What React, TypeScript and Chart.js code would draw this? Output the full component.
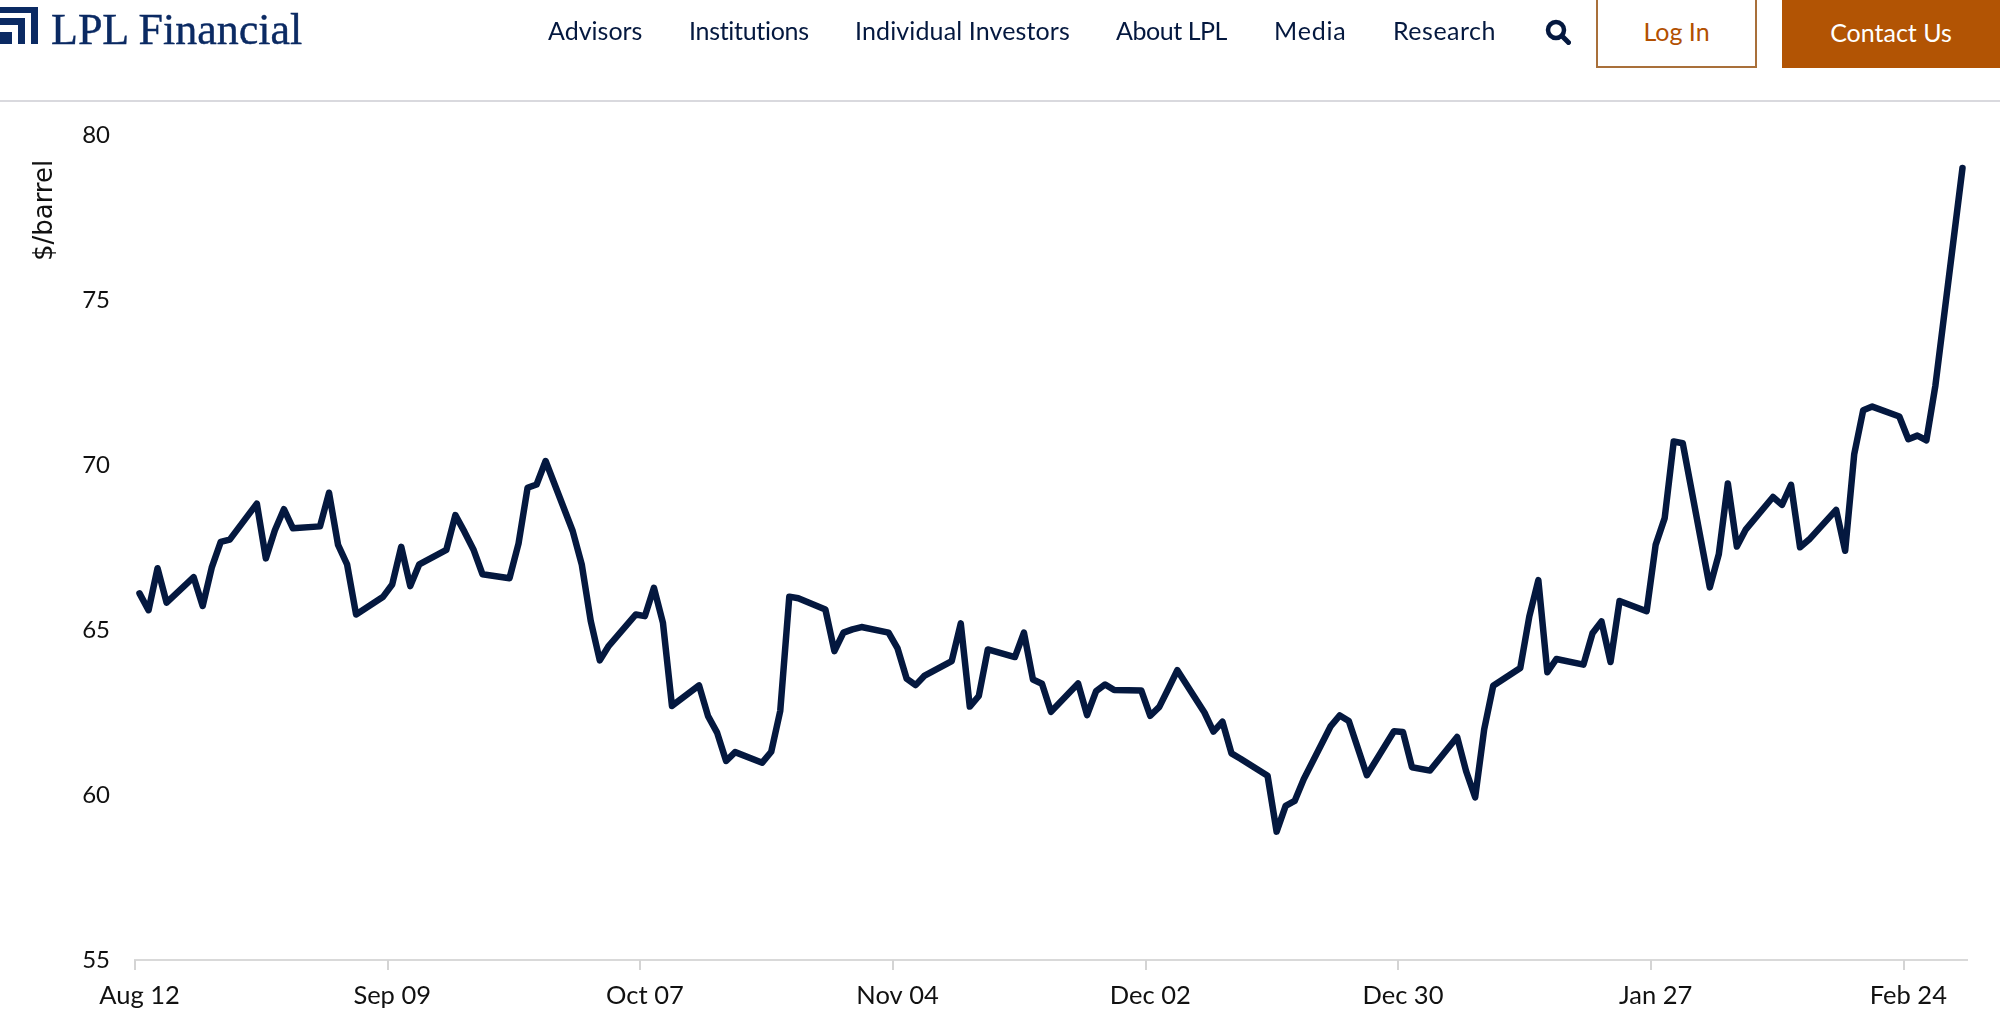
import React, { useEffect, useRef } from "react";
import { Chart, registerables } from "chart.js";

Chart.register(...registerables);

const startDate = "2025-08-12";
const calendarDays = 203;
const tickLabels = ["Aug 12", "Sep 09", "Oct 07", "Nov 04", "Dec 02", "Dec 30", "Jan 27", "Feb 24"];
const yTicks = [55, 60, 65, 70, 75, 80];
const navItems = [
  ["Advisors", 548, 0],
  ["Institutions", 689, -0.3],
  ["Individual Investors", 855, 0.13],
  ["About LPL", 1116, -0.45],
  ["Media", 1274, 0.8],
  ["Research", 1393, 0.5],
] as const;

const dates = [
  "Aug 12","Aug 13","Aug 14","Aug 15","Aug 18","Aug 19","Aug 20","Aug 21","Aug 22",
  "Aug 25","Aug 26","Aug 27","Aug 28","Aug 29","Sep 01","Sep 02","Sep 03","Sep 04","Sep 05",
  "Sep 08","Sep 09","Sep 10","Sep 11","Sep 12","Sep 15","Sep 16","Sep 17","Sep 18","Sep 19",
  "Sep 22","Sep 23","Sep 24","Sep 25","Sep 26","Sep 29","Sep 30","Oct 01","Oct 02","Oct 03",
  "Oct 06","Oct 07","Oct 08","Oct 09","Oct 10","Oct 13","Oct 14","Oct 15","Oct 16","Oct 17",
  "Oct 20","Oct 21","Oct 22","Oct 23","Oct 24","Oct 27","Oct 28","Oct 29","Oct 30","Oct 31",
  "Nov 03","Nov 04","Nov 05","Nov 06","Nov 07","Nov 10","Nov 11","Nov 12","Nov 13","Nov 14",
  "Nov 17","Nov 18","Nov 19","Nov 20","Nov 21","Nov 24","Nov 25","Nov 26","Nov 27","Nov 28",
  "Dec 01","Dec 02","Dec 03","Dec 04","Dec 05","Dec 08","Dec 09","Dec 10","Dec 11","Dec 12",
  "Dec 15","Dec 16","Dec 17","Dec 18","Dec 19","Dec 22","Dec 23","Dec 24","Dec 26",
  "Dec 29","Dec 30","Dec 31","Jan 02","Jan 05","Jan 06","Jan 07","Jan 08","Jan 09",
  "Jan 12","Jan 13","Jan 14","Jan 15","Jan 16","Jan 19","Jan 20","Jan 21","Jan 22","Jan 23",
  "Jan 26","Jan 27","Jan 28","Jan 29","Jan 30","Feb 02","Feb 03","Feb 04","Feb 05","Feb 06",
  "Feb 09","Feb 10","Feb 11","Feb 12","Feb 13","Feb 16","Feb 17","Feb 18","Feb 19","Feb 20",
  "Feb 23","Feb 24","Feb 25","Feb 26","Feb 27","Mar 02",
];

const prices = [
  66.11,65.6,66.87,65.83,66.6,65.73,66.89,67.67,67.74,
  68.83,67.17,68.02,68.66,68.08,68.14,69.16,67.58,66.99,65.47,
  66.01,66.38,67.52,66.33,66.99,67.43,68.48,67.98,67.44,66.69,
  66.57,67.62,69.31,69.41,70.12,68.0,66.99,65.27,64.08,64.52,
  65.47,65.42,66.28,65.22,62.7,63.32,62.39,61.89,61.03,61.3,
  60.98,61.31,62.55,66.01,65.96,65.62,64.36,64.92,65.02,65.09,
  64.92,64.44,63.53,63.33,63.62,64.06,65.2,62.68,63.0,64.41,
  64.18,64.92,63.5,63.37,62.52,63.38,62.42,63.15,63.35,63.18,
  63.17,62.4,62.67,63.22,63.78,62.5,61.92,62.22,61.26,61.1,
  60.58,58.89,59.67,59.82,60.48,62.09,62.41,62.24,60.6,
  61.93,61.91,60.84,60.74,61.76,60.72,59.93,61.99,63.31,
  63.85,65.41,66.51,63.72,64.12,63.95,64.9,65.26,64.03,65.88,
  65.57,67.58,68.39,70.71,70.66,66.29,67.3,69.44,67.53,68.05,
  69.03,68.79,69.4,67.51,67.74,68.64,67.4,70.32,71.66,71.77,
  71.47,70.78,70.89,70.75,72.41,79.0,
];

function buildCategories(): string[] {
  const out: string[] = [];
  const d = new Date(startDate + "T12:00:00Z");
  for (let i = 0; i < calendarDays; i++) {
    const m = d.toLocaleString("en-US", { month: "short", timeZone: "UTC" });
    out.push(`${m} ${String(d.getUTCDate()).padStart(2, "0")}`);
    d.setUTCDate(d.getUTCDate() + 1);
  }
  return out;
}

const NAVY = "#04183f";
const FONT = "Lato, sans-serif";

function Header() {
  const abs = (x: number, y: number): React.CSSProperties => ({ position: "absolute", left: x, top: y, whiteSpace: "nowrap" });
  return (
    <>
      <svg style={{ position: "absolute", left: 0, top: 0 }} width={40} height={50}>
        <path d="M0 7H38V44H31V13H0Z M0 18H25V44H18V25H0Z M0 32H12V44H0Z" fill="#0b2a63" />
      </svg>
      <div style={{ ...abs(51, 2), font: "44px 'Liberation Serif', serif", color: "#0b2a63", lineHeight: "56px", WebkitTextStroke: "0.4px #0b2a63" }}>LPL Financial</div>
      {navItems.map(([t, x, ls]) => (
        <div key={t} style={{ ...abs(x, 14), font: `25px ${FONT}`, color: NAVY, lineHeight: "32px", letterSpacing: ls }}>{t}</div>
      ))}
      <svg style={{ position: "absolute", left: 1545, top: 19 }} width={26} height={26} viewBox="0 0 26 26">
        <circle cx="11" cy="11" r="8" fill="none" stroke={NAVY} strokeWidth="4.5" />
        <line x1="17" y1="17" x2="23.5" y2="23.5" stroke={NAVY} strokeWidth="5" strokeLinecap="round" />
      </svg>
      <div style={{ position: "absolute", left: 1596, top: -2, width: 161, height: 70, boxSizing: "border-box", border: "2px solid #a9703a", background: "#fff", color: "#b25000", font: `25px ${FONT}`, textAlign: "center", lineHeight: "62px" }}>Log In</div>
      <div style={{ position: "absolute", left: 1782, top: 0, width: 218, height: 68, background: "#b25404", color: "#fff", font: `25px ${FONT}`, textAlign: "center", lineHeight: "64px" }}>Contact Us</div>
      <div style={{ position: "absolute", left: 0, top: 100, width: 2000, height: 2, background: "#d9d9de" }} />
    </>
  );
}

export default function App() {
  const ref = useRef<HTMLCanvasElement>(null);
  useEffect(() => {
    const categories = buildCategories();
    const tickMarks = {
      id: "tickMarks",
      afterDraw(chart: any) {
        const s = chart.scales.x;
        const { ctx } = chart;
        const band = s.getPixelForValue(1) - s.getPixelForValue(0);
        ctx.save();
        ctx.strokeStyle = "#d4d4d4";
        ctx.lineWidth = 2;
        tickLabels.forEach((l) => {
          const x = Math.round(s.getPixelForValue(categories.indexOf(l)) - band / 2);
          ctx.beginPath();
          ctx.moveTo(x, s.top);
          ctx.lineTo(x, s.top + 10);
          ctx.stroke();
        });
        ctx.restore();
      },
    };
    const chart = new Chart(ref.current!, {
      type: "line",
      plugins: [tickMarks],
      data: {
        labels: categories,
        datasets: [
          {
            label: "$/barrel",
            data: dates.map((d, i) => ({ x: d, y: prices[i] })),
            borderColor: NAVY,
            borderWidth: 6.5,
            pointRadius: 0,
            tension: 0,
            borderCapStyle: "round",
            borderJoinStyle: "round",
            clip: false,
          },
        ],
      },
      options: {
        responsive: false,
        animation: false,
        layout: { padding: { top: 135, right: 33, left: 0, bottom: 0 } },
        plugins: { legend: { display: false }, tooltip: { enabled: false }, title: { display: false } },
        scales: {
          x: {
            type: "category",
            offset: true,
            afterFit: (s: any) => {
              s.height = 68;
              s.paddingLeft = 0;
              s.paddingRight = 0;
            },
            grid: { display: false, drawTicks: false },
            border: { display: true, color: "#d9d9d9", width: 2 },
            ticks: {
              autoSkip: false,
              maxRotation: 0,
              minRotation: 0,
              padding: 20,
              color: "#111",
              font: { family: FONT, size: 25.5 },
              callback: (_v: any, i: number) => (tickLabels.includes(categories[i]) ? categories[i] : null),
            },
          },
          y: {
            min: yTicks[0],
            max: yTicks[yTicks.length - 1],
            afterFit: (s: any) => {
              s.width = 135;
              s.paddingTop = 0;
              s.paddingBottom = 0;
            },
            grid: { display: false, drawTicks: false },
            border: { display: false },
            ticks: { stepSize: 5, padding: 25, color: "#111", font: { family: FONT, size: 24 } },
            title: {
              display: true,
              text: "$/barrel\u00a0\u00a0\u00a0",
              align: "end",
              color: "#111",
              font: { family: "'DejaVu Sans', sans-serif", size: 26 },
              padding: { top: 30, bottom: 0 },
            },
          },
        },
      },
    } as any);
    return () => chart.destroy();
  }, []);
  return (
    <div style={{ position: "absolute", left: 0, top: 0, width: 2000, height: 1028, overflow: "hidden", background: "#fff" }}>
      <canvas ref={ref} width={2000} height={1028} style={{ position: "absolute", left: 0, top: 0, display: "block" }} />
      <Header />
    </div>
  );
}
